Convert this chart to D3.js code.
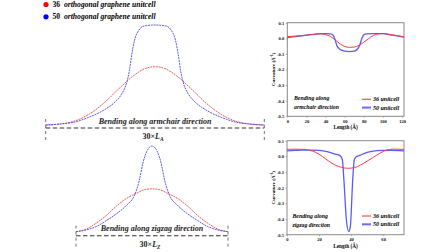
<!DOCTYPE html>
<html>
<head>
<meta charset="utf-8">
<script src="https://cdn.jsdelivr.net/npm/d3@7"></script>
<style>
  body { margin: 0; background: #fff; }
  svg { display: block; }
  text { font-family: "Liberation Serif", "DejaVu Serif", serif; font-weight: bold; }
</style>
</head>
<body>
<div id="chart"></div>
<script>
// ---- data ----
// legend of the whole figure
const unitcellSizes = ["36", "50"];
const unitcellNames = ["orthogonal graphene unitcell", "orthogonal graphene unitcell"];

// schematic bent ribbons (position along 30 x L, relative height)
const armchairRedX = [0, 2, 4, 6, 8, 10, 12, 13.5, 15, 16.5, 18, 20, 22, 24, 26, 28, 30];
const armchairRedY = [0, 0.01, 0.04, 0.11, 0.22, 0.36, 0.49, 0.56, 0.583, 0.56, 0.49, 0.36, 0.22, 0.11, 0.04, 0.01, 0];
const armchairBlueX = [0, 2, 4, 6, 8, 9.5, 10.5, 11.1, 11.5, 11.8, 12.2, 12.8, 13.5, 15, 16.5, 17.2, 17.8, 18.2, 18.5, 18.9, 19.5, 20.5, 22, 24, 26, 28, 30];
const armchairBlueY = [0, 0.01, 0.03, 0.08, 0.15, 0.23, 0.32, 0.42, 0.55, 0.70, 0.85, 0.95, 0.99, 1.0, 0.99, 0.95, 0.85, 0.70, 0.55, 0.42, 0.32, 0.23, 0.15, 0.08, 0.03, 0.01, 0];

const zigzagRedX = [0, 2, 4, 6, 8, 10, 12, 13.5, 15, 16.5, 18, 20, 22, 24, 26, 28, 30];
const zigzagRedY = [0, 0.03, 0.10, 0.19, 0.30, 0.39, 0.45, 0.49, 0.50, 0.49, 0.45, 0.39, 0.30, 0.19, 0.10, 0.03, 0];
const zigzagBlueX = [0, 2, 4, 6, 8, 10, 11.5, 12.5, 13.2, 14, 15, 16, 16.8, 17.5, 18.5, 20, 22, 24, 26, 28, 30];
const zigzagBlueY = [0, 0.02, 0.06, 0.13, 0.21, 0.31, 0.42, 0.60, 0.80, 0.94, 1.0, 0.94, 0.80, 0.60, 0.42, 0.31, 0.21, 0.13, 0.06, 0.02, 0];

// curvature along the ribbon, armchair bending (Length in Å, curvature in 1/Å)
const acLength36 = [0, 10, 20, 30, 35, 40, 45, 50, 55, 60, 65, 70, 75, 80, 85, 90, 95, 100, 110, 122];
const acCurv36 = [0.010, 0.015, 0.020, 0.027, 0.028, 0.024, 0.012, -0.010, -0.035, -0.052, -0.058, -0.056, -0.045, -0.025, -0.002, 0.018, 0.028, 0.030, 0.022, 0.010];
const acLength50 = [0, 10, 20, 30, 35, 40, 45, 48, 50, 52, 55, 60, 65, 70, 73, 76, 78, 80, 83, 90, 100, 110, 122];
const acCurv50 = [0.005, 0.012, 0.020, 0.027, 0.030, 0.030, 0.028, 0.020, -0.010, -0.050, -0.070, -0.082, -0.085, -0.082, -0.072, -0.040, 0.000, 0.022, 0.028, 0.030, 0.030, 0.020, 0.008];

// curvature along the ribbon, zigzag bending
const zzLength36 = [0, 5, 10, 14, 18, 22, 26, 30, 34, 38, 42, 46, 50, 54, 58, 62, 66, 73];
const zzCurv36 = [0.045, 0.046, 0.045, 0.040, 0.025, 0.000, -0.030, -0.055, -0.070, -0.076, -0.072, -0.055, -0.030, -0.005, 0.020, 0.040, 0.046, 0.045];
const zzLength50 = [0, 5, 10, 15, 20, 25, 30, 33, 34.5, 35.5, 37, 38.5, 39.5, 41, 42, 43, 45, 48, 52, 56, 60, 65, 73];
const zzCurv50 = [0.035, 0.038, 0.040, 0.040, 0.038, 0.030, 0.015, 0.005, -0.020, -0.150, -0.400, -0.480, -0.450, -0.150, -0.020, -0.005, 0.005, 0.018, 0.030, 0.036, 0.038, 0.038, 0.035];

const curvTicks = [0.1, 0.0, -0.1, -0.2, -0.3, -0.4, -0.5];
const acLengthTicks = [0, 20, 40, 60, 80, 100, 120];
const zzLengthTicks = [0, 20, 40, 60];
const legendLabels = ["36 unitcell", "50 unitcell"];

const zip = (xs, ys) => xs.map((x, i) => ({x: x, y: ys[i]}));

const svg = d3.select("#chart").append("svg")
    .attr("width", 448)
    .attr("height", 252)
    .attr("font-family", "Liberation Serif, DejaVu Serif, serif");

// ---- top-left legend ----
unitcellSizes.forEach((s, i) => {
    let y = 4.5 + i * 12.3
    svg.append("circle")
        .attr("cx", 46).attr("cy", y).attr("r", 2.6)
        .attr("fill", i == 0 ? "#ff0000" : "#0000ff")
    let t = svg.append("text")
        .attr("x", 52.5).attr("y", y + 2.6)
        .attr("font-size", 7.6)
    t.append("tspan").text(s + " ")
    t.append("tspan").attr("font-style", "italic").attr("dx", 2).text(unitcellNames[i])
})

// ---- schematic ribbons ----
class RibbonVis {
    constructor(svg, box, redData, blueData, caption, sub) {
        this.svg = svg
        this.box = box
        this.redData = redData
        this.blueData = blueData
        this.caption = caption
        this.sub = sub
        this.initVis()
    }

    initVis() {
        let vis = this
        let b = vis.box

        vis.x = d3.scaleLinear().domain([0, 30]).range([b.left, b.right])
        vis.y = d3.scaleLinear().domain([0, 1]).range([b.base, b.top])

        vis.line = d3.line()
            .x(d => vis.x(d.x))
            .y(d => vis.y(d.y))
            .curve(d3.curveMonotoneX)

        // black dashed base line
        vis.svg.append("line")
            .attr("x1", b.left).attr("x2", b.right)
            .attr("y1", b.base + b.gap).attr("y2", b.base + b.gap)
            .attr("stroke", "#333").attr("stroke-width", 1.1)
            .attr("stroke-dasharray", "4.5,2.5")

        // end markers
        ;[b.left, b.right].forEach(px => {
            vis.svg.append("line")
                .attr("x1", px).attr("x2", px)
                .attr("y1", b.base - 6).attr("y2", b.base + 16)
                .attr("stroke", "#333").attr("stroke-width", 0.7)
                .attr("stroke-dasharray", "3,3")
        })

        vis.svg.append("path")
            .datum(vis.redData)
            .attr("d", vis.line)
            .attr("fill", "none")
            .attr("stroke", "#e84a4a").attr("stroke-width", 0.9)
            .attr("stroke-dasharray", "2,0.8")

        vis.svg.append("path")
            .datum(vis.blueData)
            .attr("d", vis.line)
            .attr("fill", "none")
            .attr("stroke", "#4747ee").attr("stroke-width", 0.9)
            .attr("stroke-dasharray", "2,0.8")

        vis.svg.append("text")
            .attr("x", (b.left + b.right) / 2).attr("y", b.base - 1)
            .attr("text-anchor", "middle")
            .attr("font-size", 8).attr("font-style", "italic")
            .attr("fill", "#222")
            .text(vis.caption)

        let lab = vis.svg.append("text")
            .attr("x", (b.left + b.right) / 2 - 2).attr("y", b.base + b.gap + 11)
            .attr("text-anchor", "middle")
            .attr("font-size", 8)
            .attr("fill", "#222")
        lab.append("tspan").text("30×")
        lab.append("tspan").attr("font-style", "italic").text("L")
        lab.append("tspan").attr("font-size", 5.5).attr("font-style", "italic").attr("dy", 2).text(vis.sub)
    }
}

new RibbonVis(svg, {left: 45.7, right: 264.3, base: 125, top: 25, gap: 3},
    zip(armchairRedX, armchairRedY), zip(armchairBlueX, armchairBlueY),
    "Bending along armchair direction", "A")
new RibbonVis(svg, {left: 76, right: 228, base: 231.7, top: 146, gap: 4},
    zip(zigzagRedX, zigzagRedY), zip(zigzagBlueX, zigzagBlueY),
    "Bending along zigzag direction", "Z")

// ---- curvature panels ----
class CurvatureVis {
    constructor(svg, box, xMax, xTicks, data36, data50, note) {
        this.svg = svg
        this.box = box
        this.xMax = xMax
        this.xTicks = xTicks
        this.data36 = data36
        this.data50 = data50
        this.note = note
        this.initVis()
    }

    initVis() {
        let vis = this
        let b = vis.box

        vis.x = d3.scaleLinear().domain([0, vis.xMax]).range([b.left, b.right])
        vis.y = d3.scaleLinear().domain([-0.5, 0.1]).range([b.bottom, b.top])

        vis.g = vis.svg.append("g")

        vis.g.append("g")
            .attr("class", "axis")
            .attr("transform", `translate(0, ${b.bottom})`)
            .call(d3.axisBottom(vis.x).tickValues(vis.xTicks).tickSize(1.5).tickPadding(1.5))

        vis.g.append("g")
            .attr("class", "axis")
            .attr("transform", `translate(${b.left}, 0)`)
            .call(d3.axisLeft(vis.y).tickValues(curvTicks).tickSize(1.5).tickPadding(1.5)
                .tickFormat(d => d3.format(".1f")(d).replace("−", "-")))

        vis.g.selectAll(".axis")
            .attr("font-family", "Liberation Serif, DejaVu Serif, serif")
        vis.g.selectAll(".axis text")
            .attr("font-size", 4.6)
            .attr("font-weight", "bold")
            .attr("fill", "#111")
        vis.g.selectAll(".axis .domain").remove()
        vis.g.selectAll(".axis line").attr("stroke", "#666").attr("stroke-width", 0.5)

        // frame
        vis.g.append("rect")
            .attr("x", b.left).attr("y", b.top)
            .attr("width", b.right - b.left).attr("height", b.bottom - b.top)
            .attr("fill", "none")
            .attr("stroke", "#8a8a8a").attr("stroke-width", 1)

        vis.line = d3.line()
            .x(d => vis.x(d.x))
            .y(d => vis.y(d.y))
            .curve(d3.curveMonotoneX)

        vis.g.append("path")
            .datum(vis.data50)
            .attr("d", vis.line)
            .attr("fill", "none")
            .attr("stroke", "#5a5aff").attr("stroke-width", 1.3)

        vis.g.append("path")
            .datum(vis.data36)
            .attr("d", vis.line)
            .attr("fill", "none")
            .attr("stroke", "#ff3a3a").attr("stroke-width", 1)

        // axis titles
        vis.g.append("text")
            .attr("x", (b.left + b.right) / 2).attr("y", b.bottom + 13)
            .attr("text-anchor", "middle")
            .attr("font-size", 5.2)
            .text("Length (Å)")

        let yl = vis.g.append("text")
            .attr("transform", `translate(274.5, ${(b.top + b.bottom) / 2}) rotate(-90)`)
            .attr("text-anchor", "middle")
            .attr("font-size", 5)
        yl.append("tspan").text("Curvature (Å")
        yl.append("tspan").attr("font-size", 3.4).attr("dy", -2).text("-1")
        yl.append("tspan").attr("dy", 2).text(")")

        // note
        vis.note.forEach((s, i) => {
            vis.g.append("text")
                .attr("x", b.noteX).attr("y", b.noteY + i * 9)
                .attr("font-size", 5.8).attr("font-style", "italic")
                .text(s)
        })

        // legend
        legendLabels.forEach((s, i) => {
            let ly = b.legY + i * 8.3
            vis.g.append("line")
                .attr("x1", 362).attr("x2", 371)
                .attr("y1", ly).attr("y2", ly)
                .attr("stroke", i == 0 ? "#ff5a5a" : "#6a6aff")
                .attr("stroke-width", i == 0 ? 1.3 : 2)
            vis.g.append("text")
                .attr("x", 373).attr("y", ly + 2)
                .attr("font-size", 6.0).attr("font-style", "italic")
                .text(s)
        })
    }
}

new CurvatureVis(svg, {left: 287.3, right: 404, top: 22.7, bottom: 116.3, noteX: 294, noteY: 100, legY: 99.3},
    122, acLengthTicks, zip(acLength36, acCurv36), zip(acLength50, acCurv50),
    ["Bending along", "armchair direction"])
new CurvatureVis(svg, {left: 287, right: 404, top: 140.7, bottom: 234.7, noteX: 292.5, noteY: 217.5, legY: 216},
    73, zzLengthTicks, zip(zzLength36, zzCurv36), zip(zzLength50, zzCurv50),
    ["Bending along", "zigzag direction"])
</script>
</body>
</html>
